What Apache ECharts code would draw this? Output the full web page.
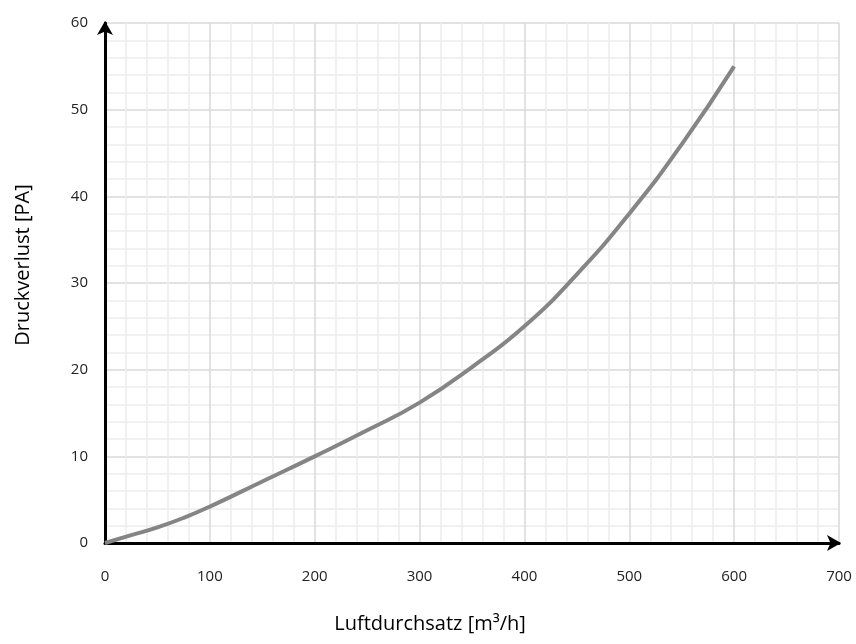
<!DOCTYPE html>
<html>
<head>
<meta charset="utf-8">
<script src="https://cdn.jsdelivr.net/npm/echarts@6/dist/echarts.min.js"></script>
<style>
  html, body { margin: 0; padding: 0; background: #fff; }
  #chart { width: 856px; height: 644px; }
</style>
</head>
<body>
<div id="chart"></div>
<script>
// Luftdurchsatz [m³/h]
const airflow = [0, 25, 50, 75, 100, 150, 200, 250, 300, 350, 400, 450, 500, 550, 600]
// Druckverlust [PA]
const pressureLoss = [0, 0.9, 1.8, 2.9, 4.2, 7.1, 10, 13, 16.2, 20.3, 25, 31, 38, 46, 55]

const chart = echarts.init(document.getElementById('chart'))

const tickFont = {
  color: '#222',
  fontFamily: 'Open Sans',
  fontSize: 15
}

const option = {
  animation: false,
  backgroundColor: '#fff',
  grid: {
    left: 105,
    right: 17,
    top: 23,
    bottom: 101,
    containLabel: false,
    outerBoundsMode: 'none'
  },
  xAxis: {
    type: 'value',
    min: 0,
    max: 700,
    interval: 100,
    name: 'Luftdurchsatz [m³/h]',
    nameLocation: 'middle',
    nameGap: 71,
    nameTextStyle: {
      color: '#000',
      fontFamily: 'Open Sans',
      fontSize: 20,
      padding: [0, 84, 0, 0]
    },
    axisLine: {
      lineStyle: { color: '#000', width: 3 },
      symbol: ['none', 'arrow'],
      symbolSize: [12, 14],
      symbolOffset: [0, 2]
    },
    axisTick: { show: false },
    axisLabel: { ...tickFont, margin: 26 },
    splitLine: { lineStyle: { color: '#d9d9d9', width: 1.5 } },
    minorTick: { show: false, splitNumber: 5 },
    minorSplitLine: { show: true, lineStyle: { color: '#ededed', width: 1.5 } }
  },
  yAxis: {
    type: 'value',
    min: 0,
    max: 60,
    interval: 10,
    name: 'Druckverlust [PA]',
    nameLocation: 'middle',
    nameGap: 72,
    nameTextStyle: {
      color: '#000',
      fontFamily: 'Open Sans',
      fontSize: 20,
      padding: [0, 0, 0, 36]
    },
    axisLine: {
      lineStyle: { color: '#000', width: 3 },
      symbol: ['none', 'arrow'],
      symbolSize: [12, 14],
      symbolOffset: [0, 2]
    },
    axisTick: { show: false },
    axisLabel: { ...tickFont, margin: 17 },
    splitLine: { lineStyle: { color: '#d9d9d9', width: 1.5 } },
    minorTick: { show: false, splitNumber: 5 },
    minorSplitLine: { show: true, lineStyle: { color: '#ededed', width: 1.5 } }
  },
  series: [
    {
      type: 'line',
      data: airflow.map((x, i) => [x, pressureLoss[i]]),
      smooth: true,
      showSymbol: false,
      lineStyle: { color: '#858585', width: 4 },
      z: 3
    }
  ]
}

chart.setOption(option)
</script>
</body>
</html>
